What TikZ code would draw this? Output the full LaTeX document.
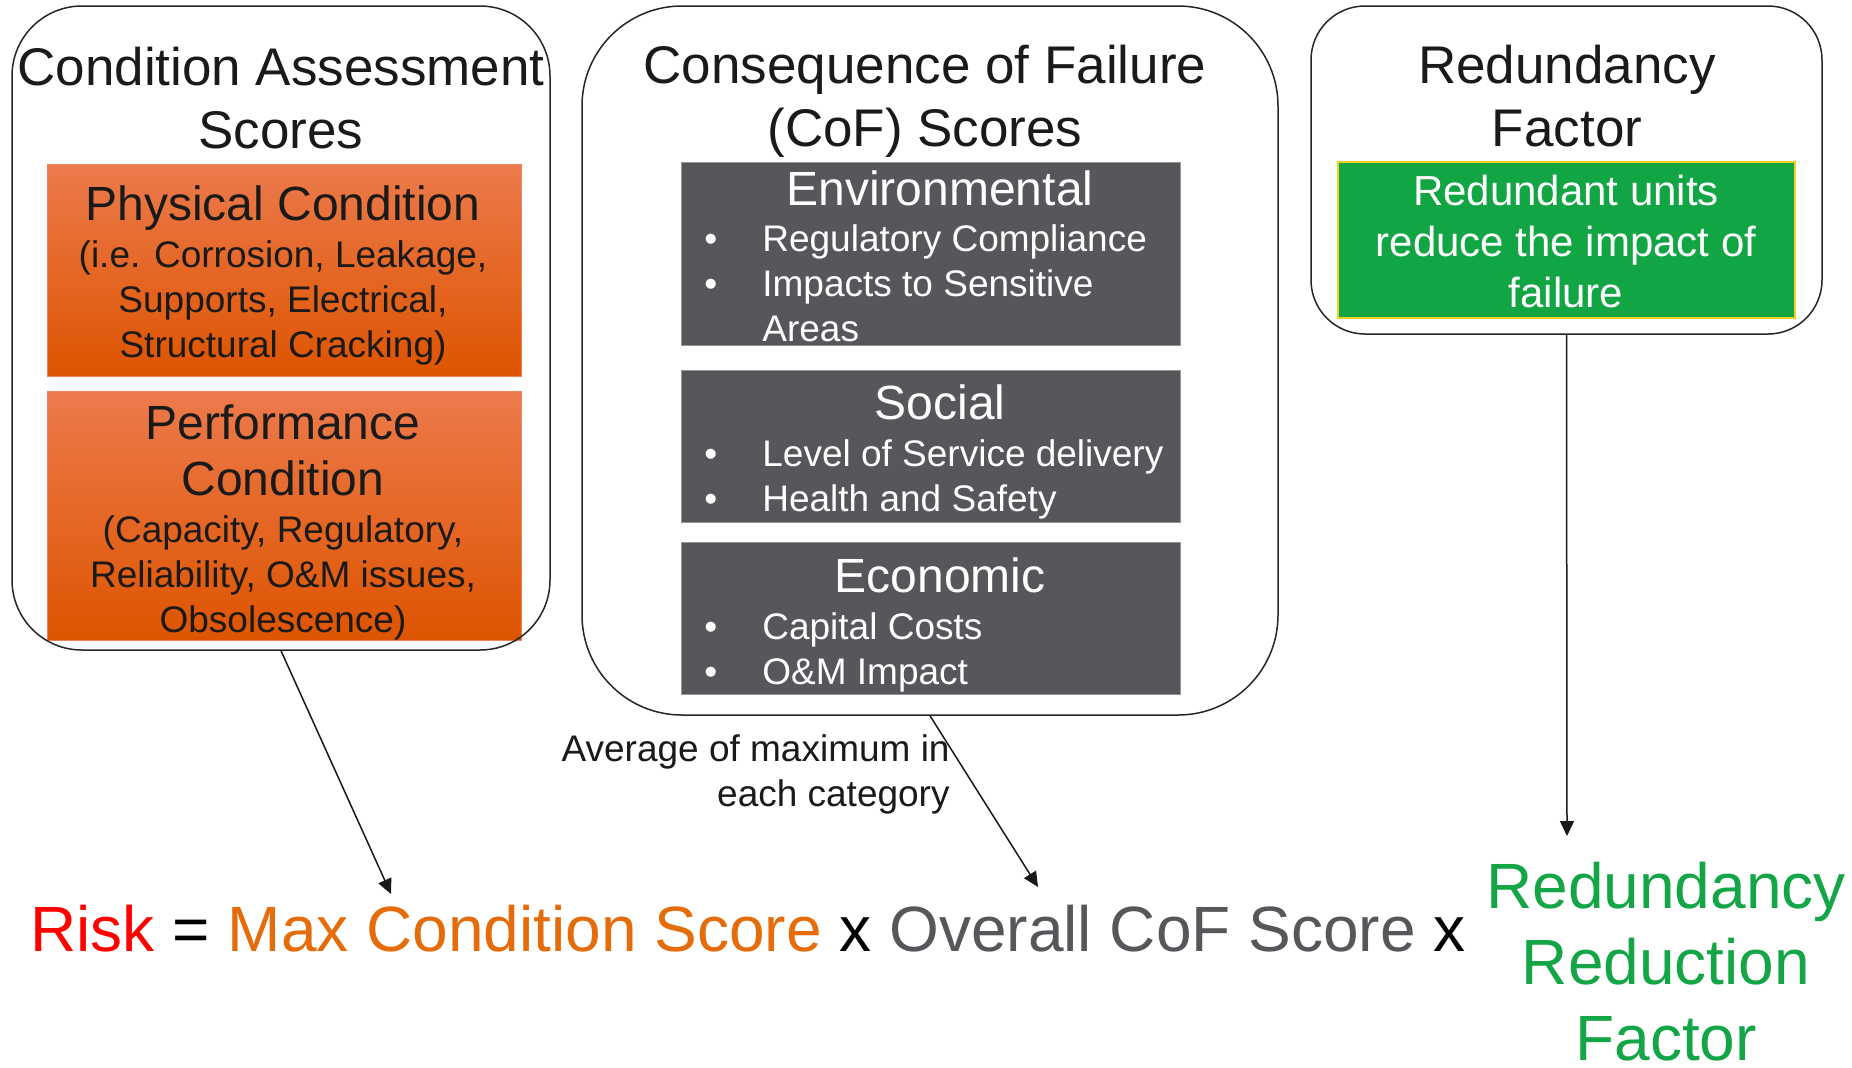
\documentclass[tikz,border=0pt]{standalone}
\usepackage{fontspec}
\setmainfont{Liberation Sans}
\usetikzlibrary{arrows.meta,fit}

\definecolor{inktext}{RGB}{26,26,26}
\definecolor{orangetop}{RGB}{236,122,76}
\definecolor{orangemid}{RGB}{234,98,14}
\definecolor{orangebot}{RGB}{222,84,0}
\definecolor{orangeedge}{RGB}{240,130,90}
\definecolor{slate}{RGB}{86,87,91}
\definecolor{slateedge}{RGB}{150,150,152}
\definecolor{leaf}{RGB}{18,165,68}
\definecolor{leafedge}{RGB}{240,210,40}
\definecolor{riskred}{RGB}{255,0,0}
\definecolor{condorange}{RGB}{228,108,10}
\definecolor{cofgrey}{RGB}{86,87,91}
\definecolor{redgreen}{RGB}{20,165,70}

\newcommand\fTitle{\fontsize{26.5pt}{31.5pt}\selectfont}
\newcommand\fHead{\fontsize{24pt}{28pt}\selectfont}
\newcommand\fSmall{\fontsize{18.5pt}{22.5pt}\selectfont}
\newcommand\fGreen{\fontsize{21pt}{25.5pt}\selectfont}
\newcommand\fEq{\fontsize{32pt}{38pt}\selectfont}
\newcommand\bul{\makebox[30pt][l]{\hspace*{1pt}•}}

\begin{document}
\begin{tikzpicture}[x=0.5pt,y=-0.5pt,
  orangebox/.style={draw=orangeedge, line width=0.5pt, inner sep=0pt,
    top color=orangetop, middle color=orangemid, bottom color=orangebot},
  greybox/.style={draw=slateedge, line width=0.5pt, fill=slate, inner sep=0pt},
  greenbox/.style={draw=leafedge, line width=0.6pt, fill=leaf, inner sep=0pt},
  outline/.style={draw=black!85, line width=0.75pt, inner sep=0pt},
  ttl/.style={font=\fTitle, text=inktext, align=center, inner sep=0pt},
  ohead/.style={font=\fHead, text=inktext, align=center, inner sep=0pt},
  osub/.style={font=\fSmall, text=inktext, align=center, inner sep=0pt},
  ghead/.style={font=\fHead, text=white, align=center, inner sep=0pt},
  glist/.style={font=\fSmall, text=white, align=left, inner sep=0pt, anchor=west},
  conn/.style={draw=black!90, line width=0.75pt, -{Triangle[length=7.5pt,width=7pt]}}
]
\fill[white] (0,0) rectangle (1852,1067);
\useasboundingbox (0,0) rectangle (1852,1067);

% coloured panels
\node[orangebox, fit={(47,164) (521,376)}] (phys) {};
\node[orangebox, fit={(47,391) (521,640)}] (perf) {};
\node[greybox, fit={(681,162) (1180,345)}] (env) {};
\node[greybox, fit={(681,370) (1180,522)}] (soc) {};
\node[greybox, fit={(681,542) (1180,694)}] (eco) {};
\node[greenbox, fit={(1338,162) (1795,318)}] (redbox) {};

% rounded group outlines
\node[outline, rounded corners=35pt, fit={(12,6) (550,650)}] (lbox) {};
\node[outline, rounded corners=50pt, fit={(582,6) (1278,715)}] (mbox) {};
\node[outline, rounded corners=27pt, fit={(1311,6) (1822,334)}] (rbox) {};

% group titles
\node[ttl] (ltitle) at (281,98.5) {Condition Assessment\\Scores};
\node[ttl] (mtitle) at (925,101) {Consequence of Failure\\(CoF) Scores};
\node[ttl] (rtitle) at (1567,96.5) {Redundancy\\Factor};

% condition panels
\node[ohead] (physh) at (283,208) {Physical Condition};
\node[osub] (physs) at (283,303) {(i.e. Corrosion, Leakage,\\Supports, Electrical,\\Structural Cracking)};
\node[ohead] (perfh) at (283,450) {Performance\\Condition};
\node[osub] (perfs) at (283,578) {(Capacity, Regulatory,\\Reliability, O\&M issues,\\Obsolescence)};

% consequence panels
\node[ghead] (envh) at (940,188) {Environmental};
\node[glist] (envl) at (702,283) {\bul Regulatory Compliance\\\bul Impacts to Sensitive\\\hspace*{30pt}Areas};
\node[ghead] (soch) at (940,402) {Social};
\node[glist] (socl) at (702,479) {\bul Level of Service delivery\\\bul Health and Safety};
\node[ghead] (ecoh) at (940,575) {Economic};
\node[glist] (ecol) at (702,652) {\bul Capital Costs\\\bul O\&M Impact};

% redundancy panel
\node[font=\fGreen, text=white, align=center, inner sep=0pt] (redt) at (1566,241)
  {Redundant units\\reduce the impact of\\failure};

% note on the averaging
\node[font=\fSmall, text=inktext, align=right, inner sep=0pt, anchor=east] (avg) at (950,774)
  {Average of maximum in\\each category};

% risk equation
\node[font=\fEq, text=black, inner sep=0pt, anchor=base west] (eq) at (30,951)
  {{\color{riskred}Risk} = {\color{condorange}Max Condition Score} x {\color{cofgrey}Overall CoF Score} x};
\node[font=\fEq, text=redgreen, align=center, inner sep=0pt] (rrf) at (1666,962)
  {Redundancy\\Reduction\\Factor};

% connectors
\coordinate (tipA) at (391,894);
\coordinate (tipB) at (1038,887);
\coordinate (tipC) at (1567,836);
\draw[conn] (lbox.south) -- (tipA);
\draw[conn] (mbox.south) -- (tipB);
\draw[conn] (rbox.south) -- (tipC);
\end{tikzpicture}
\end{document}
